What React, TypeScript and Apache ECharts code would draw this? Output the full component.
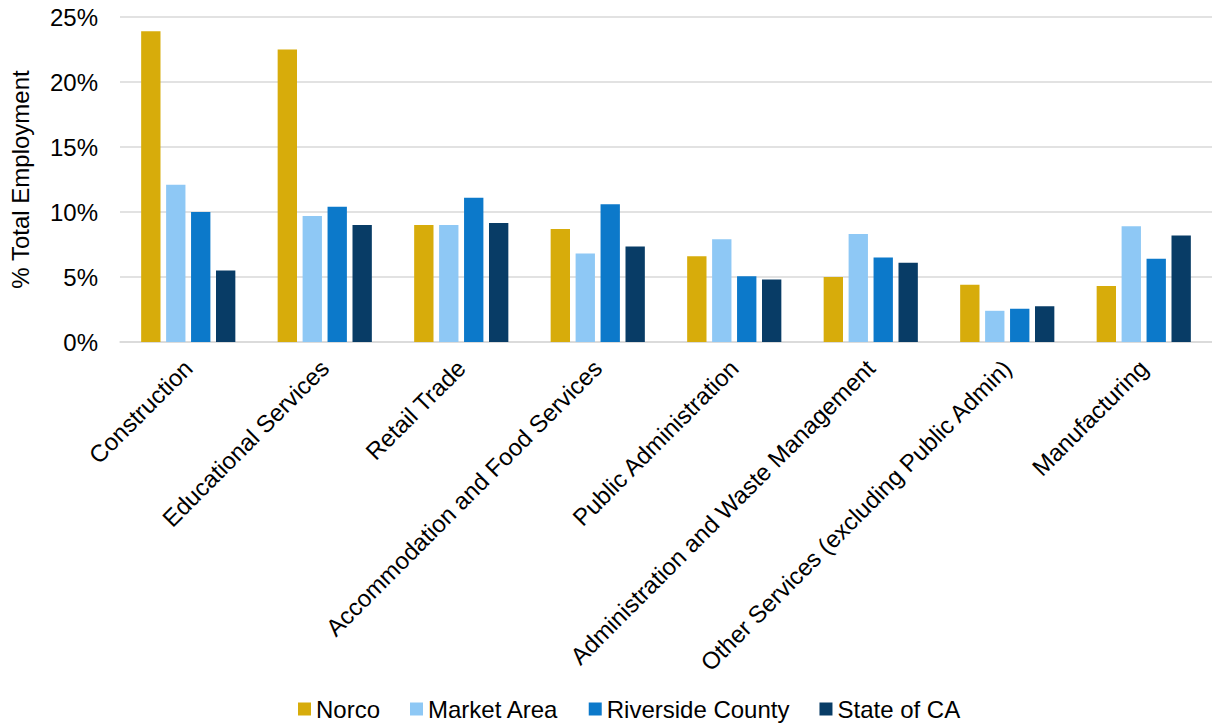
import React, { useEffect, useRef } from "react";
import * as echarts from "echarts";

const categories = [
  "Construction",
  "Educational Services",
  "Retail Trade",
  "Accommodation and Food Services",
  "Public Administration",
  "Administration and Waste Management",
  "Other Services (excluding Public Admin)",
  "Manufacturing",
];

const norco = [23.9, 22.5, 9.0, 8.7, 6.6, 5.0, 4.4, 4.3];
const marketArea = [12.1, 9.7, 9.0, 6.8, 7.9, 8.3, 2.4, 8.9];
const riversideCounty = [10.0, 10.4, 11.1, 10.6, 5.05, 6.5, 2.55, 6.4];
const stateOfCA = [5.5, 9.0, 9.15, 7.35, 4.8, 6.1, 2.75, 8.2];

const seriesNames = ["Norco", "Market Area", "Riverside County", "State of CA"];
const seriesColors = ["#D7AC0B", "#8EC8F5", "#0C79CA", "#083C66"];

const FONT = "Liberation Sans, Arial, sans-serif";

export default function App() {
  const ref = useRef<HTMLDivElement>(null);

  useEffect(() => {
    if (!ref.current) return;
    const chart = echarts.init(ref.current, undefined, { renderer: "svg" });
    const data = [norco, marketArea, riversideCounty, stateOfCA];
    chart.setOption({
      animation: false,
      textStyle: { fontFamily: FONT },
      grid: { left: 117, width: 1102, top: 17, height: 325, containLabel: false },
      legend: {
        top: 697,
        left: 298,
        itemWidth: 13,
        itemHeight: 13,
        itemGap: 30,
        icon: "rect",
        padding: 0,
        textStyle: { fontSize: 24, color: "#000", fontFamily: FONT },
        data: seriesNames,
      },
      xAxis: {
        type: "category",
        data: categories,
        axisLine: { show: true, lineStyle: { color: "#D9D9D9", width: 1.5 } },
        axisTick: { show: false },
        axisLabel: {
          rotate: 45,
          interval: 0,
          fontSize: 24,
          color: "#000",
          margin: 22,
          fontFamily: FONT,
        },
      },
      yAxis: {
        type: "value",
        min: 0,
        max: 25,
        interval: 5,
        name: "% Total Employment",
        nameLocation: "middle",
        nameGap: 88,
        nameTextStyle: { fontSize: 24, color: "#000", fontFamily: FONT },
        axisLine: { show: false },
        axisTick: { show: false },
        axisLabel: {
          formatter: "{value}%",
          fontSize: 24,
          color: "#000",
          margin: 22,
          fontFamily: FONT,
        },
        splitLine: { lineStyle: { color: "#D9D9D9", width: 1.5 } },
      },
      series: seriesNames.map((name, i) => ({
        name,
        type: "bar",
        data: data[i],
        barGap: "29%",
        barCategoryGap: "31%",
        itemStyle: { color: seriesColors[i] },
      })),
    });
    return () => chart.dispose();
  }, []);

  return (
    <div
      ref={ref}
      style={{ position: "absolute", left: 0, top: 0, width: 1212, height: 727 }}
    />
  );
}
